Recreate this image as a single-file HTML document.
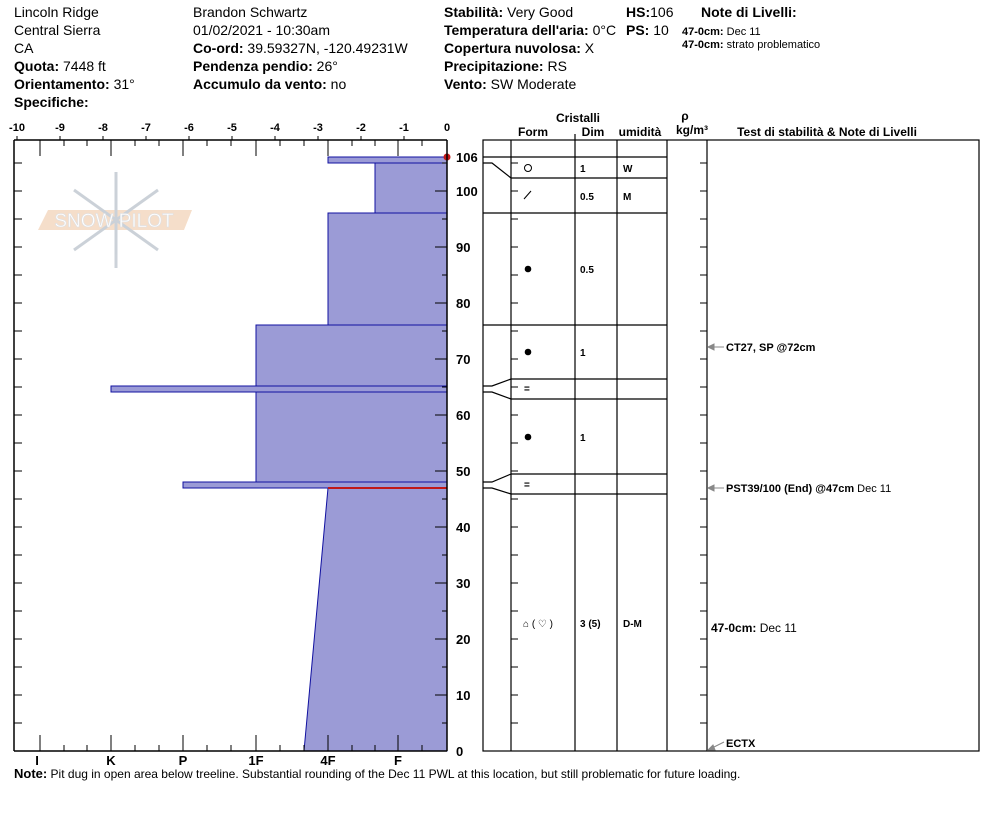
<!DOCTYPE html>
<html><head><meta charset="utf-8"><style>
body{margin:0;background:#fff;}
svg{display:block;font-family:"Liberation Sans",Arial,sans-serif;}
.b{font-weight:bold}
</style></head><body>
<svg width="994" height="840" viewBox="0 0 994 840" xmlns="http://www.w3.org/2000/svg">
<g font-size="14" fill="#000">
<text x="14" y="17">Lincoln Ridge</text>
<text x="14" y="35">Central Sierra</text>
<text x="14" y="53">CA</text>
<text x="14" y="71"><tspan class="b">Quota:</tspan> 7448 ft</text>
<text x="14" y="89"><tspan class="b">Orientamento:</tspan> 31°</text>
<text x="14" y="107" class="b">Specifiche:</text>
<text x="193" y="17">Brandon Schwartz</text>
<text x="193" y="35">01/02/2021 - 10:30am</text>
<text x="193" y="53"><tspan class="b">Co-ord:</tspan> 39.59327N, -120.49231W</text>
<text x="193" y="71"><tspan class="b">Pendenza pendio:</tspan> 26°</text>
<text x="193" y="89"><tspan class="b">Accumulo da vento:</tspan> no</text>
<text x="444" y="17"><tspan class="b">Stabilità:</tspan> Very Good</text>
<text x="444" y="35"><tspan class="b">Temperatura dell'aria:</tspan> 0°C</text>
<text x="444" y="53"><tspan class="b">Copertura nuvolosa:</tspan> X</text>
<text x="444" y="71"><tspan class="b">Precipitazione:</tspan> RS</text>
<text x="444" y="89"><tspan class="b">Vento:</tspan>  SW Moderate</text>
<text x="626" y="17"><tspan class="b">HS:</tspan>106</text>
<text x="626" y="35"><tspan class="b">PS:</tspan> 10</text>
<text x="701" y="17" class="b">Note di Livelli:</text>
</g>
<g font-size="11">
<text x="682" y="35"><tspan class="b">47-0cm:</tspan>  Dec 11</text>
<text x="682" y="48"><tspan class="b">47-0cm:</tspan> strato problematico</text>
</g>
<!-- watermark -->
<g opacity="0.6">
<polygon points="48,210 192,210 184,230 38,230" fill="#f0c9a8"/>
<g stroke="#aab4bf" stroke-width="3" fill="none">
<line x1="116" y1="172" x2="116" y2="268"/>
<line x1="74" y1="190" x2="158" y2="250"/>
<line x1="74" y1="250" x2="158" y2="190"/>
</g>
<text x="114" y="227" font-size="19" fill="#fff" text-anchor="middle" stroke="#c8ccd2" stroke-width="0.6">SNOW PILOT</text>
</g>
<!-- hardness bars -->
<g fill="#9b9bd6" stroke="#1010a0" stroke-width="1">
<polygon points="304,751 328,488 447,488 447,751"/>
<rect x="183" y="482" width="264" height="6"/>
<rect x="256" y="392" width="191" height="90"/>
<rect x="111" y="386" width="336" height="6"/>
<rect x="256" y="325" width="191" height="61"/>
<rect x="328" y="213" width="119" height="112"/>
<rect x="375" y="163" width="72" height="50"/>
<rect x="328" y="157" width="119" height="6"/>
</g>
<line x1="328" y1="488" x2="447" y2="488" stroke="#c01818" stroke-width="2"/>
<circle cx="447" cy="157" r="3.5" fill="#c01818"/>
<!-- axes -->
<g stroke="#000" stroke-width="1.5" fill="none">
<line x1="14" y1="140" x2="447" y2="140"/>
<line x1="14" y1="140" x2="14" y2="751"/>
<line x1="447" y1="140" x2="447" y2="751"/>
<line x1="14" y1="751" x2="447" y2="751"/>
</g>
<g stroke="#000" stroke-width="1">
<path d="M40,140v16M111,140v16M183,140v16M256,140v16M328,140v16M398,140v16M64,140v6M87,140v6M135,140v6M159,140v6M207,140v6M231,140v6M280,140v6M304,140v6M352,140v6M375,140v6M422,140v6M17,136v4M60,136v4M103,136v4M146,136v4M189,136v4M232,136v4M275,136v4M318,136v4M361,136v4M404,136v4"/>
<path d="M40,751v-16M111,751v-16M183,751v-16M256,751v-16M328,751v-16M398,751v-16M64,751v-6M87,751v-6M135,751v-6M159,751v-6M207,751v-6M231,751v-6M280,751v-6M304,751v-6M352,751v-6M375,751v-6M422,751v-6"/>
<path d="M14,723h8M14,695h8M14,667h8M14,639h8M14,611h8M14,583h8M14,555h8M14,527h8M14,499h8M14,471h8M14,443h8M14,415h8M14,387h8M14,359h8M14,331h8M14,303h8M14,275h8M14,247h8M14,219h8M14,191h8M14,163h8"/>
<path d="M447,723h-5M447,695h-12M447,667h-5M447,639h-12M447,611h-5M447,583h-12M447,555h-5M447,527h-12M447,499h-5M447,471h-12M447,443h-5M447,415h-12M447,387h-5M447,359h-12M447,331h-5M447,303h-12M447,275h-5M447,247h-12M447,219h-5M447,191h-12M447,163h-5"/>
</g>
<g font-size="11" class="b" text-anchor="middle">
<text x="17" y="131">-10</text><text x="60" y="131">-9</text><text x="103" y="131">-8</text><text x="146" y="131">-7</text><text x="189" y="131">-6</text><text x="232" y="131">-5</text><text x="275" y="131">-4</text><text x="318" y="131">-3</text><text x="361" y="131">-2</text><text x="404" y="131">-1</text><text x="447" y="131">0</text>
</g>
<g font-size="13" class="b" text-anchor="middle">
<text x="37" y="765">I</text><text x="111" y="765">K</text><text x="183" y="765">P</text><text x="256" y="765">1F</text><text x="328" y="765">4F</text><text x="398" y="765">F</text>
</g>
<g font-size="13" class="b">
<text x="456" y="162">106</text><text x="456" y="196">100</text><text x="456" y="252">90</text><text x="456" y="308">80</text><text x="456" y="364">70</text><text x="456" y="420">60</text><text x="456" y="476">50</text><text x="456" y="532">40</text><text x="456" y="588">30</text><text x="456" y="644">20</text><text x="456" y="700">10</text><text x="456" y="756">0</text>
</g>
<text x="14" y="778" font-size="12"><tspan class="b" font-size="13">Note:</tspan>  Pit dug in open area below treeline. Substantial rounding of the Dec 11 PWL at this location, but still problematic for future loading.</text>
<!-- right table -->
<g font-size="12" class="b" text-anchor="middle">
<text x="578" y="122">Cristalli</text>
<text x="533" y="136">Form</text>
<text x="593" y="136">Dim</text>
<text x="640" y="136">umidità</text>
<text x="685" y="120">ρ</text>
<text x="692" y="134">kg/m³</text>
<text x="827" y="136">Test di stabilità &amp; Note di Livelli</text>
</g>
<g stroke="#000" stroke-width="1.2" fill="none">
<rect x="483" y="140" width="496" height="611"/>
<line x1="511" y1="140" x2="511" y2="751"/>
<line x1="575" y1="140" x2="575" y2="751"/>
<line x1="617" y1="140" x2="617" y2="751"/>
<line x1="667" y1="140" x2="667" y2="751"/>
<line x1="707" y1="140" x2="707" y2="751"/>
<line x1="575" y1="134" x2="575" y2="140"/>
<path d="M511,157H667M511,178H667M483,213H667M483,325H667M511,379H667M511,399H667M511,474H667M511,494H667"/>
<path d="M483,157H511M483,163H492L511,178M483,386H492L511,379M483,392H492L511,399M483,482H492L511,474M483,488H492L511,494"/>
</g>
<g stroke="#000" stroke-width="1">
<path d="M511,723h7M511,695h7M511,667h7M511,639h7M511,611h7M511,583h7M511,555h7M511,527h7M511,499h7M511,471h7M511,443h7M511,415h7M511,387h7M511,359h7M511,331h7M511,303h7M511,275h7M511,247h7M511,219h7M511,191h7M511,163h7"/>
<path d="M707,723h-7M707,695h-7M707,667h-7M707,639h-7M707,611h-7M707,583h-7M707,555h-7M707,527h-7M707,499h-7M707,471h-7M707,443h-7M707,415h-7M707,387h-7M707,359h-7M707,331h-7M707,303h-7M707,275h-7M707,247h-7M707,219h-7M707,191h-7M707,163h-7"/>
</g>
<circle cx="528" cy="168" r="3.5" fill="none" stroke="#000"/>
<line x1="524" y1="199" x2="531" y2="191" stroke="#000"/>
<circle cx="528" cy="269" r="3.3"/>
<circle cx="528" cy="352" r="3.3"/>
<circle cx="528" cy="437" r="3.3"/>
<g font-size="10" class="b">
<text x="524" y="392">=</text>
<text x="524" y="488">=</text>
<text x="580" y="172">1</text><text x="623" y="172">W</text>
<text x="580" y="200">0.5</text><text x="623" y="200">M</text>
<text x="580" y="273">0.5</text>
<text x="580" y="356">1</text>
<text x="580" y="441">1</text>
<text x="580" y="627">3 (5)</text><text x="623" y="627">D-M</text>
</g>
<text x="523" y="627" font-size="10">⌂ ( ♡ )</text>
<g stroke="#888" stroke-width="1" fill="#888">
<line x1="710" y1="347" x2="724" y2="347"/><polygon points="708,347 714,344 714,350"/>
<line x1="710" y1="488" x2="724" y2="488"/><polygon points="708,488 714,485 714,491"/>
<line x1="710" y1="749" x2="724" y2="742"/><polygon points="708,750 713,745 715,750"/>
</g>
<g font-size="11">
<text x="726" y="351" class="b">CT27, SP @72cm</text>
<text x="726" y="492"><tspan class="b">PST39/100 (End) @47cm</tspan>  Dec 11</text>
<text x="711" y="632" font-size="12"><tspan class="b">47-0cm:</tspan>  Dec 11</text>
<text x="726" y="747" class="b">ECTX</text>
</g>
</svg>
</body></html>
